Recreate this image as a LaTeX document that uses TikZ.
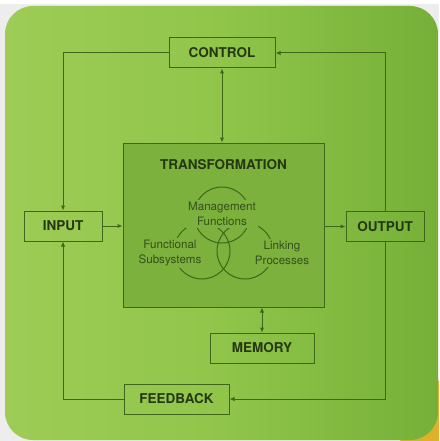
\documentclass[tikz,border=0pt]{standalone}
\usepackage{fontspec}
\setmainfont{TeX Gyre Heros}
\usetikzlibrary{arrows.meta}
\definecolor{bgout}{HTML}{EDEDED}
\definecolor{gleft}{HTML}{9ECC56}
\definecolor{gmid}{HTML}{90C54A}
\definecolor{gright}{HTML}{76B038}
\definecolor{transfill}{HTML}{7DB13D}
\definecolor{lc}{HTML}{3F661B}
\definecolor{tc}{HTML}{253710}
\definecolor{ctc}{HTML}{354F1C}
\definecolor{corner}{HTML}{DDB12C}
\begin{document}
\begin{tikzpicture}[x=1pt,y=-1pt,
  box/.style={draw=lc, line width=1pt, minimum height=30pt, inner sep=0pt,
    font=\fontsize{13.5}{15}\selectfont\bfseries, text=tc},
  arr/.style={draw=lc, line width=1pt, -{Latex[length=5pt,width=4.5pt]}},
  darr/.style={draw=lc, line width=1pt, {Latex[length=5pt,width=4.5pt]}-{Latex[length=5pt,width=4.5pt]}},
  circ/.style={draw=lc, line width=1pt},
  clabel/.style={fill=transfill, inner sep=2.5pt, align=center, text=ctc,
    font=\fontsize{11.6}{15}\selectfont}]
  % background
  \fill[bgout] (0,0) rectangle (439,441);
  \fill[white] (0,0) rectangle (439,4);
  \fill[corner] (400,441) -- (439,441) -- (439,380) -- cycle;
  \shade[rounded corners=28pt, left color=gleft, right color=gright, middle color=gmid]
    (5,6) rectangle (438,440);
  \useasboundingbox (0,0) rectangle (439,441);

  % transformation box
  \node[draw=lc, line width=1pt, fill=transfill, minimum width=201pt, minimum height=164pt, inner sep=0pt]
    (trans) at (223.5,225) {};
  \node[font=\fontsize{13.5}{15}\selectfont\bfseries, text=tc] (ttitle) at (223.5,165) {TRANSFORMATION};

  % circles
  \draw[circ] (222,215) circle[radius=28];
  \draw[circ] (202,251) circle[radius=28];
  \draw[circ] (245,251) circle[radius=28];
  \node[clabel] (mgmt) at (222,214) {Management\\Functions};
  \node[clabel] (func) at (170,253) {Functional\\Subsystems};
  \node[clabel] (link) at (282,253) {Linking\\Processes};

  % boxes
  \node[box, minimum width=106pt] (control) at (222,53) {CONTROL};
  \node[box, minimum width=78pt] (input) at (63,226) {INPUT};
  \node[box, minimum width=78pt] (output) at (385,226.5) {OUTPUT};
  \node[box, minimum width=104pt] (memory) at (262,348) {MEMORY};
  \node[box, minimum width=105pt] (feedback) at (176.5,399) {FEEDBACK};

  % connectors
  \draw[arr] (output.north) |- (control.east);
  \draw[arr] (control.west) -| (input.north);
  \draw[arr] (output.south) |- (feedback.east);
  \draw[arr] (feedback.west) -| (input.south);
  \draw[arr] (input.east) -- (input.east -| trans.west);
  \draw[arr] (output.west -| trans.east) -- (output.west);
  \draw[darr] (control.south) -- (control.south |- trans.north);
  \draw[darr] (memory.north |- trans.south) -- (memory.north);
\end{tikzpicture}
\end{document}
